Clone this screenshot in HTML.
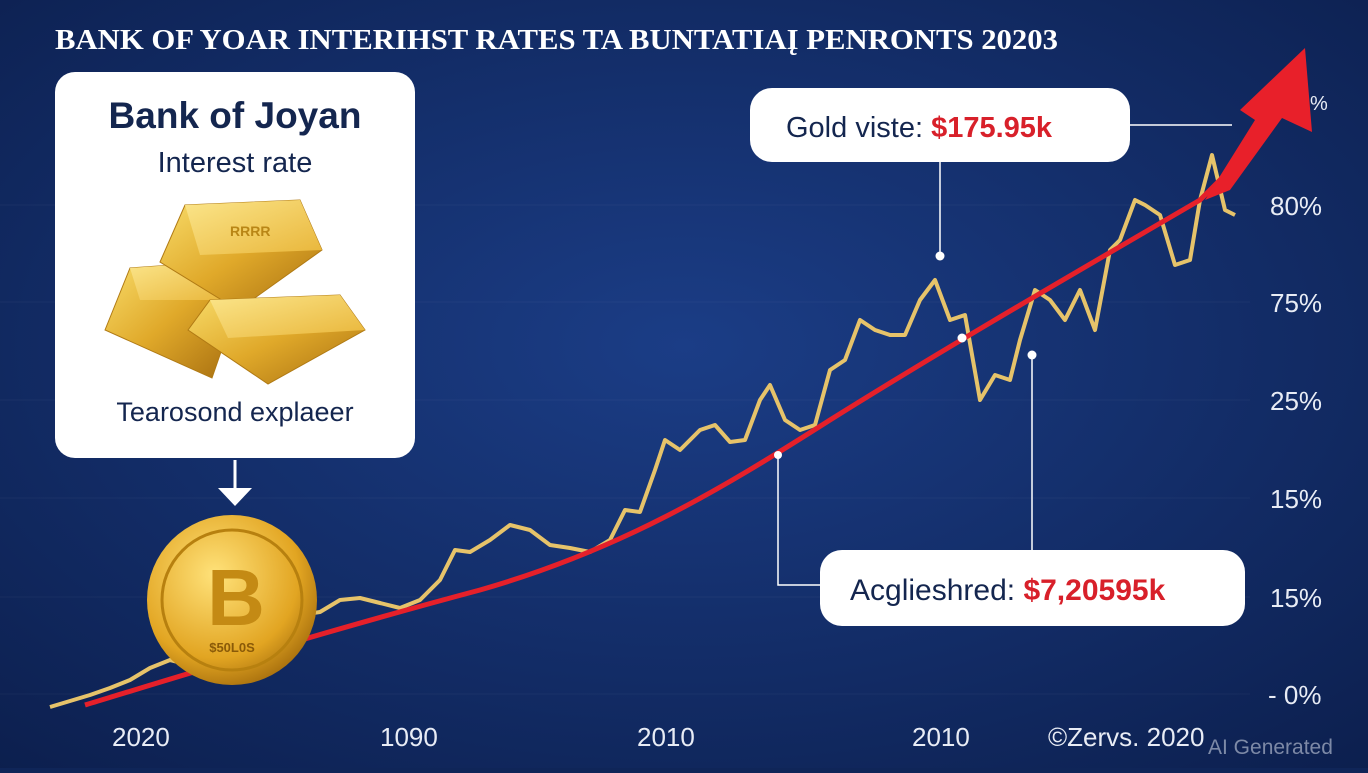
<!DOCTYPE html>
<html><head><style>
body{margin:0;width:1368px;height:768px;overflow:hidden;background:#0f2558;font-family:"Liberation Sans",sans-serif}
</style></head><body>
<svg width="1368" height="768" viewBox="0 0 1368 768" xmlns="http://www.w3.org/2000/svg">
<defs>
<radialGradient id="bg" cx="0.5" cy="0.45" r="0.8"><stop offset="0" stop-color="#1b3d86"/><stop offset="1" stop-color="#0b1d4a"/></radialGradient>
<linearGradient id="gold" x1="0" y1="0" x2="1" y2="1"><stop offset="0" stop-color="#f8dc6a"/><stop offset="0.5" stop-color="#e0a92a"/><stop offset="1" stop-color="#a86f10"/></linearGradient>
<linearGradient id="goldtop" x1="0" y1="0" x2="1" y2="1"><stop offset="0" stop-color="#fbe58a"/><stop offset="1" stop-color="#e9b63a"/></linearGradient>
<radialGradient id="coin" cx="0.4" cy="0.35" r="0.7"><stop offset="0" stop-color="#ffe27a"/><stop offset="0.7" stop-color="#e2a522"/><stop offset="1" stop-color="#a66e0d"/></radialGradient>
</defs>
<rect width="1368" height="768" fill="url(#bg)"/>
<g stroke="#ffffff" stroke-opacity="0.04">
<line x1="0" y1="205" x2="1250" y2="205"/><line x1="0" y1="302" x2="1250" y2="302"/><line x1="0" y1="400" x2="1250" y2="400"/><line x1="0" y1="498" x2="1250" y2="498"/><line x1="0" y1="597" x2="1250" y2="597"/><line x1="0" y1="694" x2="1250" y2="694"/>
</g>
<text x="55" y="49" font-family="Liberation Serif,serif" font-size="29" font-weight="bold" fill="#fff" textLength="1003" lengthAdjust="spacingAndGlyphs">BANK OF YOAR INTERIHST RATES TA BUNTATIAĮ PENRONTS 20203</text>
<path d="M50,707 L90,695 110,688 130,680 150,668 170,660 190,665 210,655 240,640 270,632 300,615 320,612 340,600 360,598 380,603 400,608 420,600 440,580 455,550 470,552 490,540 510,525 530,530 550,545 570,548 590,552 610,540 625,510 640,512 655,470 665,440 680,450 700,430 715,425 730,442 745,440 760,400 770,385 785,420 800,430 815,425 830,370 845,360 860,320 875,330 890,335 905,335 920,300 935,280 950,320 965,315 980,400 995,375 1010,380 1020,340 1035,290 1050,300 1065,320 1080,290 1095,330 1110,250 1120,240 1135,200 1145,205 1160,215 1175,265 1190,260 1200,200 1212,155 1225,210 1235,215" fill="none" stroke="#e6c36a" stroke-width="4" stroke-linejoin="round"/>
<path d="M85,705 C200,670 330,630 480,590 C620,550 720,490 830,420 C950,345 1080,270 1200,200 L1260,140" fill="none" stroke="#e5202a" stroke-width="5"/>
<path d="M1240,110 L1305,48 L1312,132 L1282,118 L1230,190 L1205,200 L1255,120 Z" fill="#e8202a"/>
<g stroke="#fff" stroke-width="1.5" fill="none">
<line x1="1130" y1="125" x2="1232" y2="125"/>
<line x1="940" y1="162" x2="940" y2="255"/>
<polyline points="778,455 778,585 820,585"/>
<line x1="1032" y1="355" x2="1032" y2="550"/>
</g>
<circle cx="940" cy="256" r="4.5" fill="#fff"/><circle cx="962" cy="338" r="4.5" fill="#fff"/><circle cx="1032" cy="355" r="4.5" fill="#fff"/><circle cx="778" cy="455" r="4" fill="#fff"/>
<rect x="750" y="88" width="380" height="74" rx="22" fill="#fff"/>
<text x="786" y="137" font-size="29" fill="#14264f">Gold viste: <tspan fill="#d8202a" font-weight="bold">$175.95k</tspan></text>
<rect x="820" y="550" width="425" height="76" rx="22" fill="#fff"/>
<text x="850" y="600" font-size="30" fill="#14264f">Acglieshred: <tspan fill="#d8202a" font-weight="bold">$7,20595k</tspan></text>
<rect x="55" y="72" width="360" height="386" rx="20" fill="#fff"/>
<text x="235" y="128" text-anchor="middle" font-size="37" font-weight="bold" fill="#14264f">Bank of Joyan</text>
<text x="235" y="172" text-anchor="middle" font-size="29" fill="#14264f">Interest rate</text>
<!-- gold bars -->
<polygon points="105,330 130,268 215,262 232,320 212,378" fill="url(#gold)" stroke="#b07a14"/>
<polygon points="130,268 215,262 232,300 140,300" fill="url(#goldtop)"/>
<polygon points="160,262 185,205 300,200 322,250 238,310" fill="url(#gold)" stroke="#b07a14"/>
<polygon points="185,205 300,200 322,250 200,255" fill="url(#goldtop)"/>
<polygon points="188,330 210,300 340,295 365,330 268,384" fill="url(#gold)" stroke="#b07a14"/>
<polygon points="210,300 340,295 365,330 228,338" fill="url(#goldtop)"/>
<text x="230" y="236" font-size="14" font-weight="bold" fill="#b98616">RRRR</text>
<text x="235" y="421" text-anchor="middle" font-size="27" fill="#14264f">Tearosond explaeer</text>
<line x1="235" y1="460" x2="235" y2="495" stroke="#fff" stroke-width="3"/>
<polygon points="218,488 252,488 235,506" fill="#fff"/>
<circle cx="232" cy="600" r="85" fill="url(#coin)"/>
<circle cx="232" cy="600" r="70" fill="none" stroke="#b7800f" stroke-width="3"/>
<text x="236" y="625" text-anchor="middle" font-size="80" font-weight="bold" fill="#c48a14">B</text>
<text x="232" y="652" text-anchor="middle" font-size="13" font-weight="bold" fill="#8a5a08">$50L0S</text>
<g font-size="26" fill="#e8ecf5">
<text x="1270" y="215">80%</text><text x="1270" y="312">75%</text><text x="1270" y="410">25%</text><text x="1270" y="508">15%</text><text x="1270" y="607">15%</text><text x="1268" y="704">- 0%</text>
</g>
<text x="1310" y="110" font-size="20" fill="#e8ecf5">%</text>
<g font-size="26" fill="#e8ecf5">
<text x="112" y="746">2020</text><text x="380" y="746">1090</text><text x="637" y="746">2010</text><text x="912" y="746">2010</text><text x="1048" y="746">©Zervs. 2020</text>
</g>
<text x="1208" y="754" font-size="21" fill="#9aa4bc" fill-opacity="0.8">AI Generated</text>
</svg>
</body></html>
